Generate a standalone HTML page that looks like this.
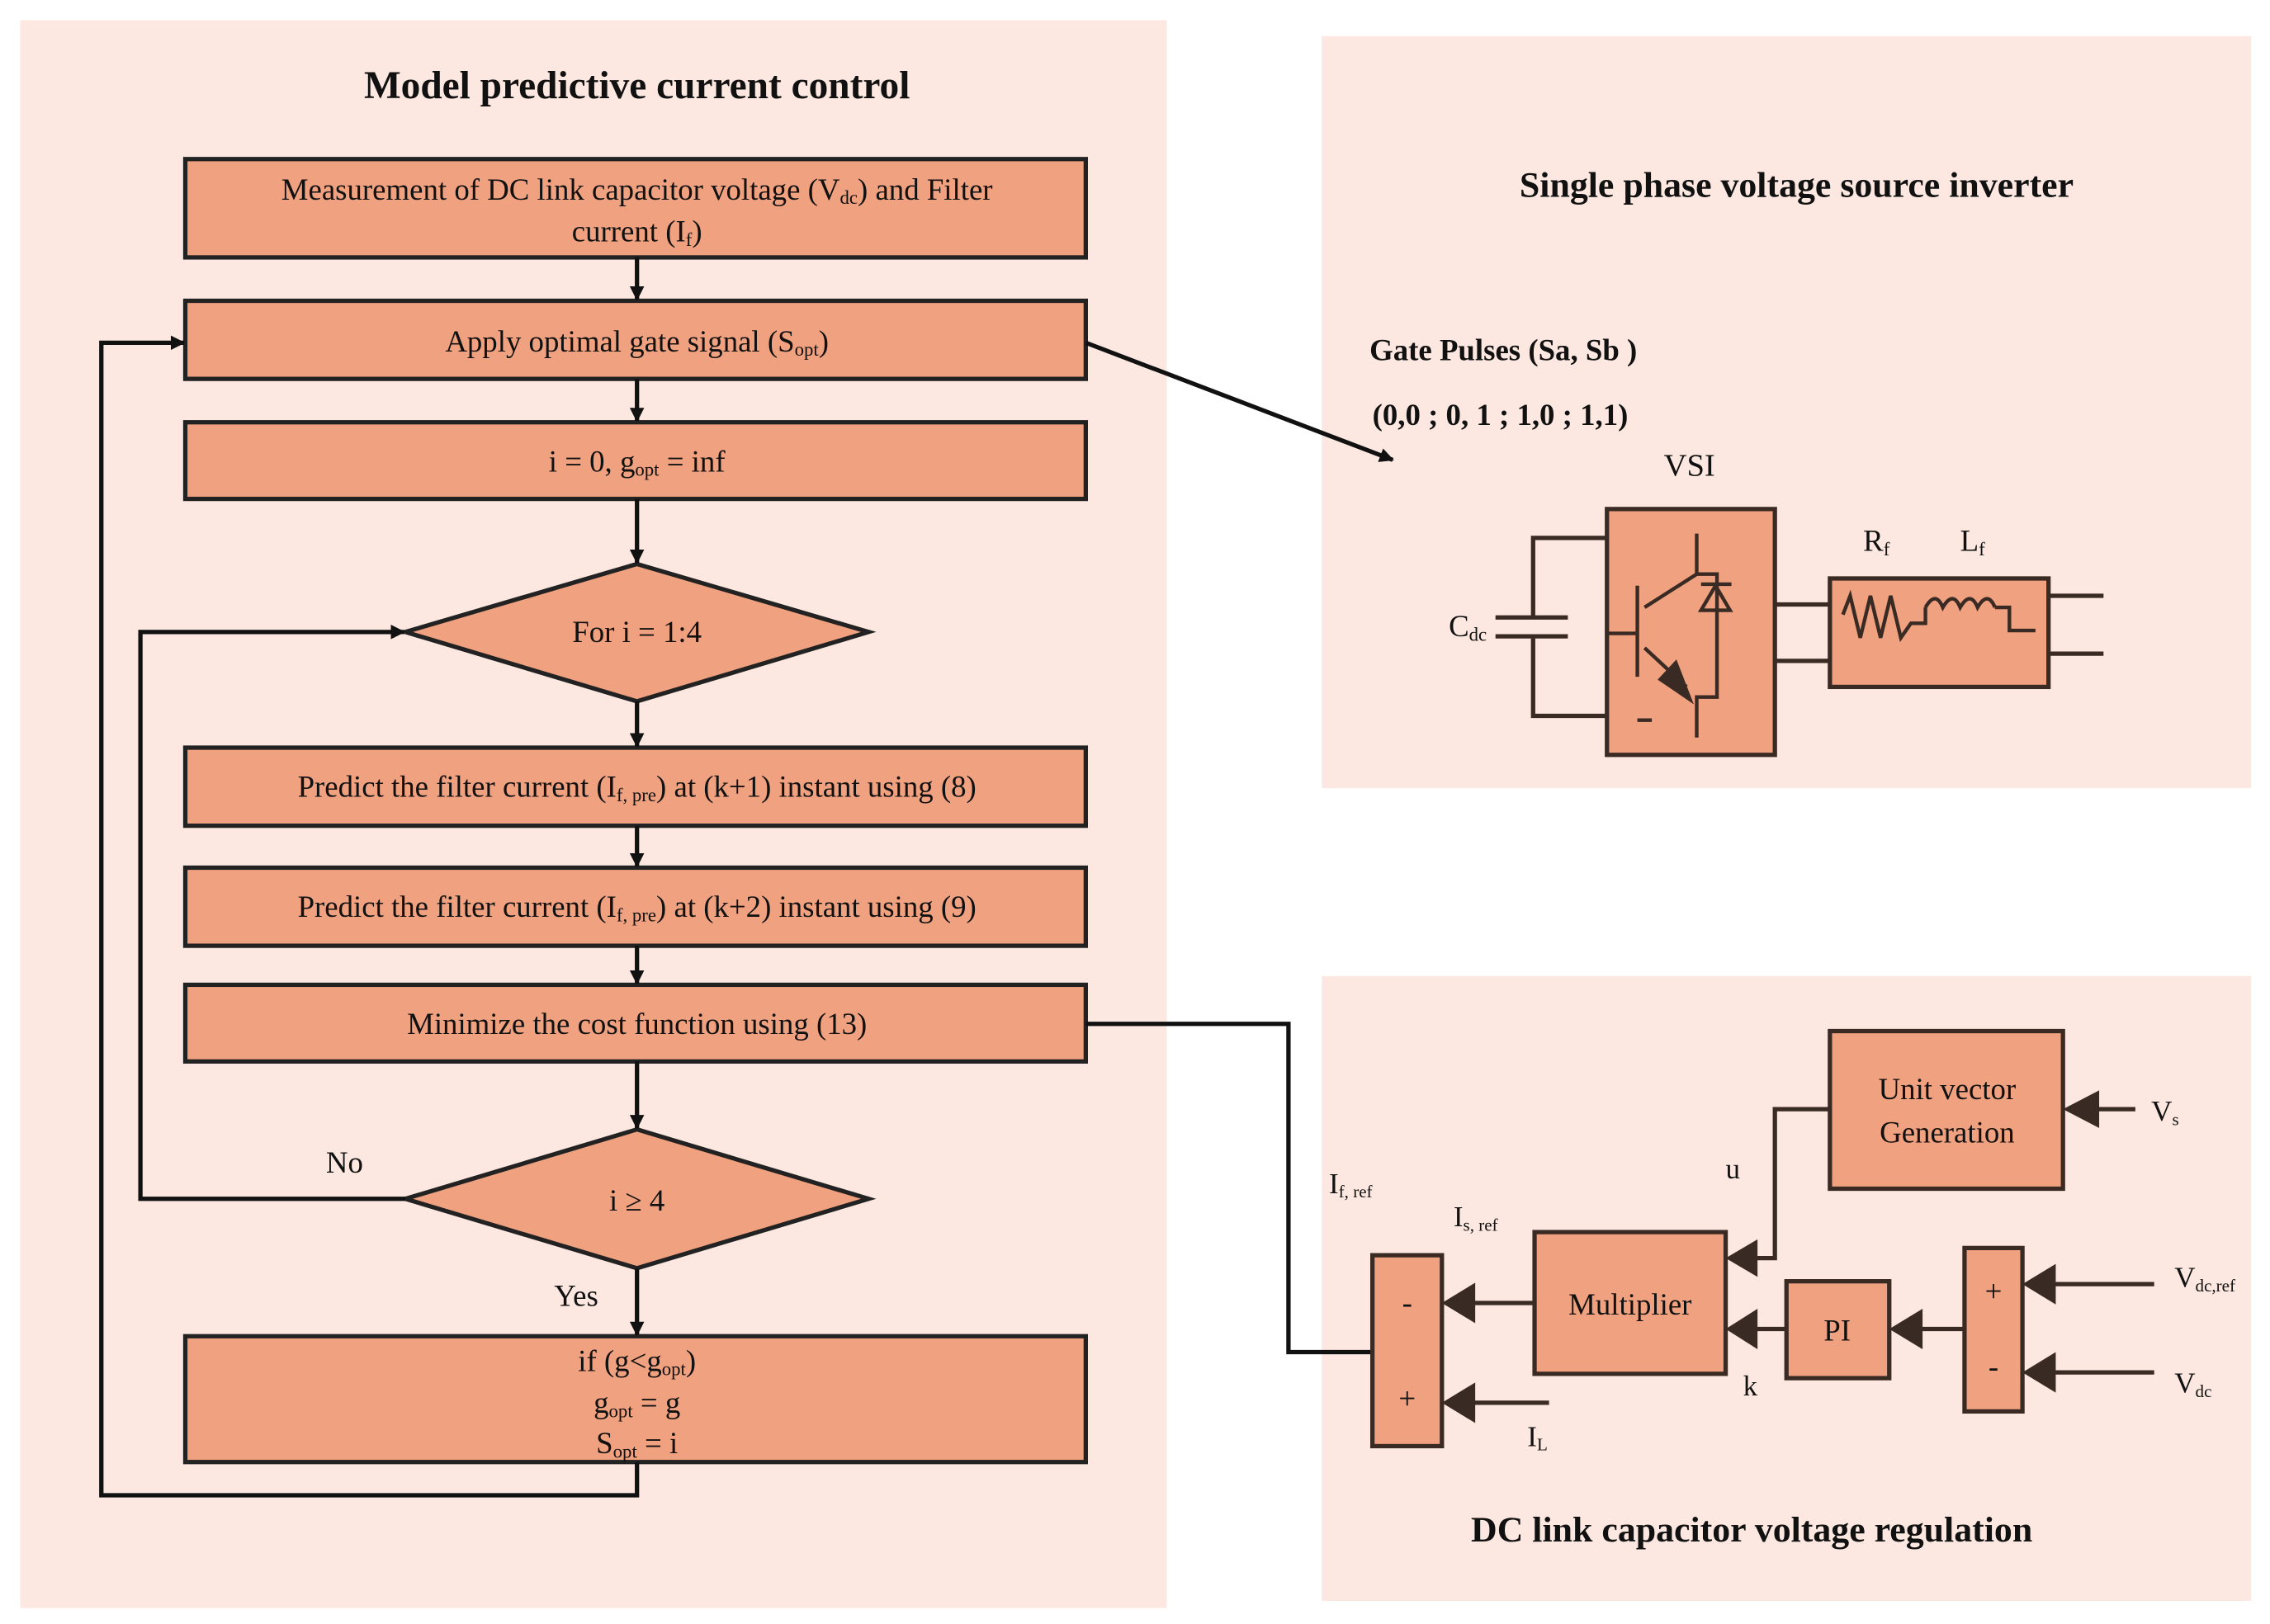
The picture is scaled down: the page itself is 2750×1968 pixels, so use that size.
<!DOCTYPE html>
<html><head><meta charset="utf-8"><style>
html,body{margin:0;padding:0;background:#fff;}
svg{display:block;}
text{font-family:"Liberation Serif",serif;fill:#111;}
</style></head><body>
<svg width="2750" height="1968" viewBox="0 0 1568 1123" preserveAspectRatio="none" xmlns="http://www.w3.org/2000/svg">
<defs>
<marker id="a" markerWidth="10" markerHeight="10" refX="9" refY="5" orient="auto" markerUnits="userSpaceOnUse"><path d="M0,0 L10,5 L0,10 Z" fill="#111"/></marker>
</defs>
<rect width="1568" height="1123" fill="#fff"/>
<rect x="14" y="14" width="792" height="1098" fill="#fce8e0"/>
<rect x="913" y="25" width="642" height="520" fill="#fce8e0"/>
<rect x="913" y="675" width="642" height="432" fill="#fce8e0"/>

<text x="440" y="68" font-size="27" font-weight="bold" text-anchor="middle">Model predictive current control</text>

<g fill="#f0a17f" stroke="#222" stroke-width="3">
<rect x="128" y="110" width="622" height="68"/>
<rect x="128" y="208" width="622" height="54"/>
<rect x="128" y="292" width="622" height="53"/>
<polygon points="280,437 440,390 600,437 440,485"/>
<rect x="128" y="517" width="622" height="54"/>
<rect x="128" y="600" width="622" height="54"/>
<rect x="128" y="681" width="622" height="53"/>
<polygon points="280,829 440,781 600,829 440,877"/>
<rect x="128" y="924" width="622" height="87"/>
</g>
<g font-size="21" text-anchor="middle">
<text x="440" y="138">Measurement of DC link capacitor voltage (V<tspan font-size="13" dy="3">dc</tspan><tspan dy="-3">) and Filter</tspan></text>
<text x="440" y="167">current (I<tspan font-size="13" dy="3">f</tspan><tspan dy="-3">)</tspan></text>
<text x="440" y="243">Apply optimal gate signal (S<tspan font-size="13" dy="3">opt</tspan><tspan dy="-3">)</tspan></text>
<text x="440" y="326">i = 0, g<tspan font-size="13" dy="3">opt</tspan><tspan dy="-3"> = inf</tspan></text>
<text x="440" y="444">For i = 1:4</text>
<text x="440" y="551">Predict the filter current (I<tspan font-size="13" dy="3">f, pre</tspan><tspan dy="-3">) at (k+1) instant using (8)</tspan></text>
<text x="440" y="634">Predict the filter current (I<tspan font-size="13" dy="3">f, pre</tspan><tspan dy="-3">) at (k+2) instant using (9)</tspan></text>
<text x="440" y="715">Minimize the cost function using (13)</text>
<text x="440" y="837">i ≥ 4</text>
<text x="440" y="948">if (g&lt;g<tspan font-size="13" dy="3">opt</tspan><tspan dy="-3">)</tspan></text>
<text x="440" y="977">g<tspan font-size="13" dy="3">opt</tspan><tspan dy="-3"> = g</tspan></text>
<text x="440" y="1005">S<tspan font-size="13" dy="3">opt</tspan><tspan dy="-3"> = i</tspan></text>
<text x="238" y="811">No</text>
<text x="398" y="903">Yes</text>
</g>

<g stroke="#111" stroke-width="3" fill="none">
<line x1="440" y1="178" x2="440" y2="207" marker-end="url(#a)"/>
<line x1="440" y1="262" x2="440" y2="291" marker-end="url(#a)"/>
<line x1="440" y1="345" x2="440" y2="389" marker-end="url(#a)"/>
<line x1="440" y1="485" x2="440" y2="516" marker-end="url(#a)"/>
<line x1="440" y1="571" x2="440" y2="599" marker-end="url(#a)"/>
<line x1="440" y1="654" x2="440" y2="680" marker-end="url(#a)"/>
<line x1="440" y1="734" x2="440" y2="780" marker-end="url(#a)"/>
<line x1="440" y1="877" x2="440" y2="923" marker-end="url(#a)"/>
<polyline points="440,1011 440,1034 70,1034 70,237 127,237" marker-end="url(#a)"/>
<polyline points="280,829 97,829 97,437 279,437" marker-end="url(#a)"/>
<line x1="750" y1="237" x2="962" y2="318" marker-end="url(#a)"/>
<polyline points="750,708 890,708 890,935 948,935"/>
</g>

<text x="1241" y="136" font-size="25" font-weight="bold" text-anchor="middle">Single phase voltage source inverter</text>
<text x="946" y="249" font-size="21" font-weight="bold">Gate Pulses (Sa, Sb )</text>
<text x="948" y="294" font-size="21" font-weight="bold">(0,0 ; 0, 1 ; 1,0 ; 1,1)</text>
<text x="1167" y="329" font-size="22" text-anchor="middle" fill="#333">VSI</text>

<g stroke="#3a2a24" stroke-width="3" fill="none">
<polyline points="1110,372 1059,372 1059,427"/>
<polyline points="1059,440 1059,495 1110,495"/>
<line x1="1033" y1="427" x2="1083" y2="427"/>
<line x1="1033" y1="440" x2="1083" y2="440"/>
<line x1="1226" y1="418" x2="1264" y2="418"/>
<line x1="1226" y1="457" x2="1264" y2="457"/>
<line x1="1415" y1="412" x2="1453" y2="412"/>
<line x1="1415" y1="452" x2="1453" y2="452"/>
</g>
<rect x="1110" y="352" width="116" height="170" fill="#f0a17f" stroke="#3a2a24" stroke-width="3"/>
<rect x="1264" y="400" width="151" height="75" fill="#f0a17f" stroke="#3a2a24" stroke-width="3"/>
<g stroke="#3a2a24" stroke-width="2.5" fill="none">
<line x1="1110" y1="438" x2="1130" y2="438"/>
<line x1="1131" y1="405" x2="1131" y2="468"/>
<polyline points="1172,369 1172,397 1186,397 1186,482 1172,482 1172,510"/>
<polyline points="1136,420 1172,397"/>
<polyline points="1136,448 1165,475"/>
<polygon points="1175,422 1195,422 1185,405" />
<line x1="1175" y1="404" x2="1196" y2="404"/>
<line x1="1131" y1="498" x2="1141" y2="498"/>
<polyline points="1273,425 1278,412 1285,441 1292,412 1299,441 1306,412 1313,441 1320,431 1330,431 1330,420"/>
<path d="M1330,420 q7,-12 12,0 q7,-12 12,0 q7,-12 12,0 q7,-12 12,0 M1378,420 L1388,420 L1388,436 L1406,436"/>
</g>
<polygon points="1145,470 1170,487 1158,456" fill="#3a2a24"/>
<text x="1027" y="440" font-size="21" text-anchor="end">C<tspan font-size="13" dy="3">dc</tspan></text>
<text x="1287" y="381" font-size="21">R<tspan font-size="13" dy="3">f</tspan></text>
<text x="1354" y="381" font-size="21">L<tspan font-size="13" dy="3">f</tspan></text>

<text x="1210" y="1066" font-size="25" font-weight="bold" text-anchor="middle">DC link capacitor voltage regulation</text>
<g stroke="#3a2a24" stroke-width="3" fill="none">
<line x1="1475" y1="767" x2="1440" y2="767"/>
<polyline points="1264,767 1226,767 1226,870 1208,870"/>
<line x1="1488" y1="888" x2="1412" y2="888"/>
<line x1="1488" y1="949" x2="1412" y2="949"/>
<line x1="1357" y1="919" x2="1320" y2="919"/>
<line x1="1234" y1="919" x2="1208" y2="919"/>
<line x1="1060" y1="901" x2="1012" y2="901"/>
<line x1="1070" y1="970" x2="1012" y2="970"/>
</g>
<g fill="#f0a17f" stroke="#3a2a24" stroke-width="3">
<rect x="1264" y="713" width="161" height="109"/>
<rect x="1060" y="852" width="132" height="98"/>
<rect x="1234" y="886" width="71" height="67"/>
<rect x="1357" y="863" width="40" height="113"/>
<rect x="948" y="868" width="48" height="132"/>
</g>
<g fill="#3a2a24">
<polygon points="1425,767 1450,754 1450,780"/>
<polygon points="1192,870 1214,857 1214,883"/>
<polygon points="1397,888 1420,874 1420,902"/>
<polygon points="1397,949 1420,935 1420,963"/>
<polygon points="1305,919 1328,905 1328,933"/>
<polygon points="1192,919 1214,905 1214,933"/>
<polygon points="996,901 1019,887 1019,915"/>
<polygon points="996,970 1019,956 1019,984"/>
</g>
<g font-size="21" text-anchor="middle" fill="#333">
<text x="1345" y="760">Unit vector</text>
<text x="1345" y="790">Generation</text>
<text x="1126" y="909">Multiplier</text>
<text x="1269" y="927">PI</text>
<text x="1377" y="900">+</text>
<text x="1377" y="952">-</text>
<text x="972" y="908">-</text>
<text x="972" y="974">+</text>
</g>
<g font-size="20">
<text x="1486" y="775">V<tspan font-size="12" dy="3">s</tspan></text>
<text x="1192" y="815">u</text>
<text x="1204" y="965">k</text>
<text x="1502" y="890">V<tspan font-size="12" dy="3">dc,ref</tspan></text>
<text x="1502" y="963">V<tspan font-size="12" dy="3">dc</tspan></text>
<text x="1055" y="1000">I<tspan font-size="12" dy="3">L</tspan></text>
<text x="1004" y="848">I<tspan font-size="12" dy="3">s, ref</tspan></text>
<text x="918" y="825">I<tspan font-size="12" dy="3">f, ref</tspan></text>
</g>
</svg>
</body></html>
